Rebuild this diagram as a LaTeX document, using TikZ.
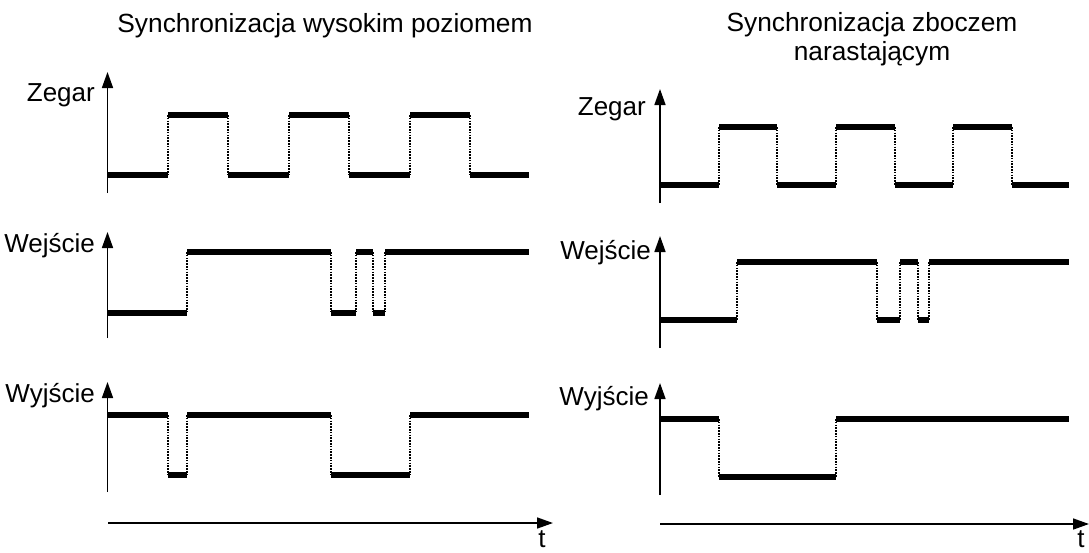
\documentclass[tikz,border=0pt]{standalone}
\usepackage{fontspec}
\setmainfont{Liberation Sans}
\usetikzlibrary{arrows.meta}
\begin{document}
\begin{tikzpicture}[x=1pt,y=-1pt,
  lbl/.style={font=\fontsize{26}{30}\selectfont, inner sep=0pt, anchor=base east},
  tlbl/.style={font=\fontsize{26}{30}\selectfont, inner sep=0pt, anchor=base},
  ttl/.style={font=\fontsize{26.3}{28.5}\selectfont, inner sep=0pt, anchor=base, align=center},
  axis/.style={line width=1.6pt, -{Triangle[length=16pt,width=11pt]}},
  lvl/.style={line width=6pt, line cap=butt},
  edge/.style={line width=1.8pt, dash pattern=on 1.6pt off 1.2pt}]
\useasboundingbox (0,0) rectangle (1089,552);
% ---------- titles ----------
\node[ttl] (t1) at (325,32) {Synchronizacja wysokim poziomem};
\node[ttl] (t2) at (872,60) {Synchronizacja zboczem\\narastającym};
% ---------- left labels ----------
\node[lbl] (lz) at (95,101) {Zegar};
\node[lbl] (lw) at (95,252) {Wejście};
\node[lbl] (ly) at (95,402) {Wyjście};
% ---------- right labels ----------
\node[lbl] (rz) at (646,115) {Zegar};
\node[lbl] (rw) at (651,259) {Wejście};
\node[lbl] (ry) at (649,405) {Wyjście};
% ---------- axes ----------
\coordinate (la1) at (107.5,193); \coordinate (la1t) at (107.5,72);
\coordinate (la2) at (107.5,338); \coordinate (la2t) at (107.5,232);
\coordinate (la3) at (107.5,492); \coordinate (la3t) at (107.5,382);
\coordinate (lta) at (108,523);   \coordinate (ltb) at (553,523);
\draw[axis] (la1) -- (la1t);
\draw[axis] (la2) -- (la2t);
\draw[axis] (la3) -- (la3t);
\draw[axis] (lta) -- (ltb);
\node[tlbl] (lt) at (542,547) {t};
\coordinate (ra1) at (660,203); \coordinate (ra1t) at (660,89);
\coordinate (ra2) at (660,348); \coordinate (ra2t) at (660,236);
\coordinate (ra3) at (660,495); \coordinate (ra3t) at (660,383);
\coordinate (rta) at (660,524); \coordinate (rtb) at (1089,524);
\draw[axis] (ra1) -- (ra1t);
\draw[axis] (ra2) -- (ra2t);
\draw[axis] (ra3) -- (ra3t);
\draw[axis] (rta) -- (rtb);
\node[tlbl] (rt) at (1081,547) {t};
% ---------- left: Zegar (low 175, high 115) ----------
\foreach \a/\b/\y in {108/168/175,168/228/115,228/289/175,289/349/115,349/410/175,410/470/115,470/529/175}
  \draw[lvl] (\a,\y) -- (\b,\y);
\foreach \x in {168,228,289,349,410,470}
  \draw[edge] (\x,115) -- (\x,175);
% ---------- left: Wejscie (low 313, high 252) ----------
\foreach \a/\b/\y in {108/187/313,187/331/252,331/356/313,356/373/252,373/385/313,385/529/252}
  \draw[lvl] (\a,\y) -- (\b,\y);
\foreach \x in {187,331,356,373,385}
  \draw[edge] (\x,252) -- (\x,313);
% ---------- left: Wyjscie (high 415, low 475) ----------
\foreach \a/\b/\y in {108/168/415,168/187/475,187/331/415,331/410/475,410/529/415}
  \draw[lvl] (\a,\y) -- (\b,\y);
\foreach \x in {168,187,331,410}
  \draw[edge] (\x,415) -- (\x,475);
% ---------- right: Zegar (low 185, high 127) ----------
\foreach \a/\b/\y in {661/719/185,719/777/127,777/836/185,836/895/127,895/953/185,953/1012/127,1012/1069/185}
  \draw[lvl] (\a,\y) -- (\b,\y);
\foreach \x in {719,777,836,895,953,1012}
  \draw[edge] (\x,127) -- (\x,185);
% ---------- right: Wejscie (low 320, high 262) ----------
\foreach \a/\b/\y in {661/737/320,737/877/262,877/900/320,900/918/262,918/929/320,929/1069/262}
  \draw[lvl] (\a,\y) -- (\b,\y);
\foreach \x in {737,877,900,918,929}
  \draw[edge] (\x,262) -- (\x,320);
% ---------- right: Wyjscie (high 419, low 477) ----------
\foreach \a/\b/\y in {661/719/419,719/836/477,836/1069/419}
  \draw[lvl] (\a,\y) -- (\b,\y);
\foreach \x in {719,836}
  \draw[edge] (\x,419) -- (\x,477);
\end{tikzpicture}
\end{document}
